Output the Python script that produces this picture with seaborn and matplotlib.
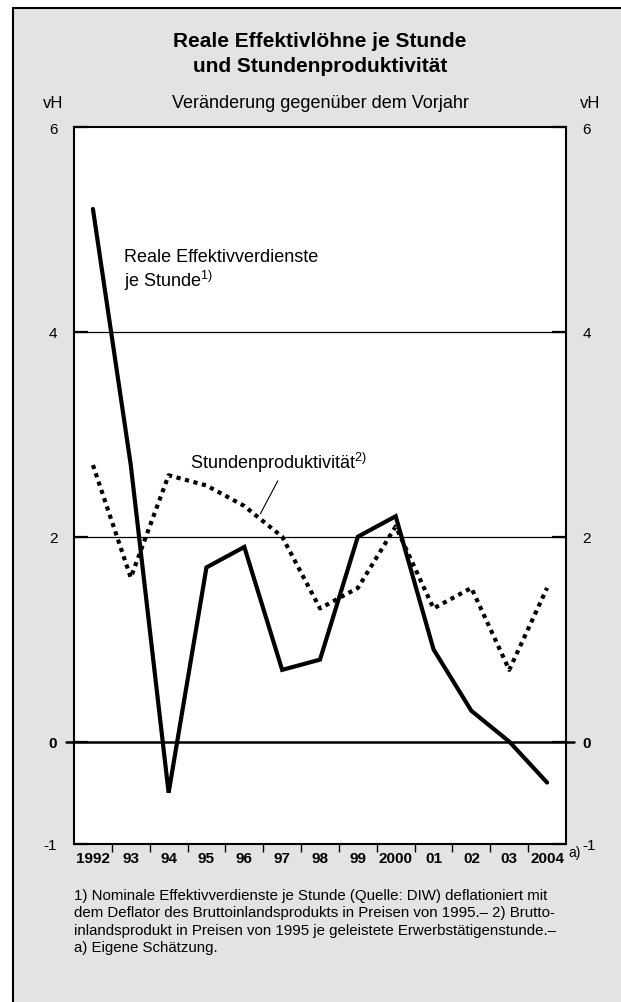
import numpy as np
import pandas as pd
import seaborn as sns
import matplotlib.pyplot as plt
from matplotlib.patches import Rectangle

# Data (vH, change vs previous year)
years = list(range(1992, 2005))
year_labels = ["1992", "93", "94", "95", "96", "97", "98", "99", "2000", "01", "02", "03", "2004"]
real_wages = [5.2, 2.7, -0.5, 1.7, 1.9, 0.7, 0.8, 2.0, 2.2, 0.9, 0.3, 0.0, -0.4]
productivity = [2.7, 1.6, 2.6, 2.5, 2.3, 2.0, 1.3, 1.5, 2.1, 1.3, 1.5, 0.7, 1.5]
y_ticks = [-1, 0, 2, 4, 6]
y_tick_labels = ["-1", "0", "2", "4", "6"]
grid_levels = [2, 4]

sns.set_theme(style="white")
plt.rcParams['font.family'] = ['Liberation Sans', 'DejaVu Sans']
plt.rcParams['text.color'] = 'black'
plt.rcParams['mathtext.fontset'] = 'custom'
plt.rcParams['mathtext.rm'] = 'Liberation Sans'
plt.rcParams['mathtext.it'] = 'Liberation Sans:italic'
plt.rcParams['mathtext.bf'] = 'Liberation Sans:bold'

df = pd.DataFrame({"Jahr": years, "real": real_wages, "prod": productivity})

W, H = 621, 1003
fig = plt.figure(figsize=(W / 100, H / 100), dpi=100)
fig.patch.set_facecolor("white")

# grey panel with black border (runs off right and bottom edge)
fig.add_artist(Rectangle((12.5 / W, -0.05), 1.2, 1.05 - 9 / H, transform=fig.transFigure,
                         facecolor="#e3e3e3", edgecolor="black", lw=1.5, zorder=0))

ax = fig.add_axes([74 / W, 1 - 845 / H, 492 / W, 717 / H])
ax.set_facecolor("white")

# grid lines and zero line
for g in grid_levels:
    ax.axhline(g, color="black", lw=0.9, zorder=1)
ax.axhline(0, xmin=-0.016, xmax=1.016, color="black", lw=1.8, zorder=1.5, clip_on=False)

sns.lineplot(data=df, x="Jahr", y="prod", ax=ax, color="black", lw=3.0,
             linestyle=(0, (1, 1.1)), dash_capstyle="butt", zorder=3)
sns.lineplot(data=df, x="Jahr", y="real", ax=ax, color="black", lw=3.0,
             solid_capstyle="round", solid_joinstyle="miter", zorder=4)

ax.set_xlim(1991.5, 2004.5)
ax.set_ylim(-1, 6)
ax.set_xlabel("")
ax.set_ylabel("")

# x axis: labels centred on years, tick marks between years
ax.set_xticks(years)
ax.set_xticklabels(year_labels, fontweight="bold", fontsize=11)
ax.set_xticks(np.array(years[:-1]) + 0.5, minor=True)
ax.tick_params(axis="x", which="major", length=0, pad=5, colors="black")
ax.tick_params(axis="x", which="minor", bottom=True, length=6, width=1,
               direction="out", color="black")

# y axis: labels on both sides, ticks pointing inward
ax.set_yticks(y_ticks)
ax.set_yticklabels(y_tick_labels)
ax.tick_params(axis="y", which="major", direction="in", length=10, width=1.6,
               left=True, right=True, labelleft=True, labelright=True,
               pad=12, labelsize=11, colors="black")
for tick, lab in zip(ax.yaxis.get_major_ticks(), y_tick_labels):
    if lab == "0":
        tick.label1.set_fontweight("bold")
        tick.label2.set_fontweight("bold")

for sp in ax.spines.values():
    sp.set_visible(True)
    sp.set_color("black")
    sp.set_linewidth(1.5)

# series labels
ax.text(1992.82, 4.6, "Reale Effektivverdienste\nje Stunde$^{1)}$", fontsize=13,
        va="center", ha="left", linespacing=1.15)
ax.text(1994.56, 2.73, "Stundenproduktivität$^{2)}$", fontsize=13, va="center", ha="left")
ax.annotate("", xy=(1996.39, 2.2), xytext=(1996.92, 2.57),
            arrowprops=dict(arrowstyle="-", color="black", lw=0.8))

# titles and units
fig.text(320 / W, 1 - 54 / H, "Reale Effektivlöhne je Stunde\nund Stundenproduktivität",
         ha="center", va="center", fontsize=15, fontweight="bold", linespacing=1.45)
fig.text(320 / W, 1 - 103 / H, "Veränderung gegenüber dem Vorjahr",
         ha="center", va="center", fontsize=13)
fig.text(53 / W, 1 - 103 / H, "vH", ha="center", va="center", fontsize=12)
fig.text(590 / W, 1 - 103 / H, "vH", ha="center", va="center", fontsize=12)
fig.text(568 / W, 1 - 853 / H, "a)", ha="left", va="center", fontsize=10)

footnote = ("1) Nominale Effektivverdienste je Stunde (Quelle: DIW) deflationiert mit\n"
            "dem Deflator des Bruttoinlandsprodukts in Preisen von 1995.– 2) Brutto-\n"
            "inlandsprodukt in Preisen von 1995 je geleistete Erwerbstätigenstunde.–\n"
            "a) Eigene Schätzung.")
fig.text(74 / W, 1 - 889 / H, footnote, ha="left", va="top", fontsize=10.8, linespacing=1.3)

fig.savefig("out.png", dpi=100)
